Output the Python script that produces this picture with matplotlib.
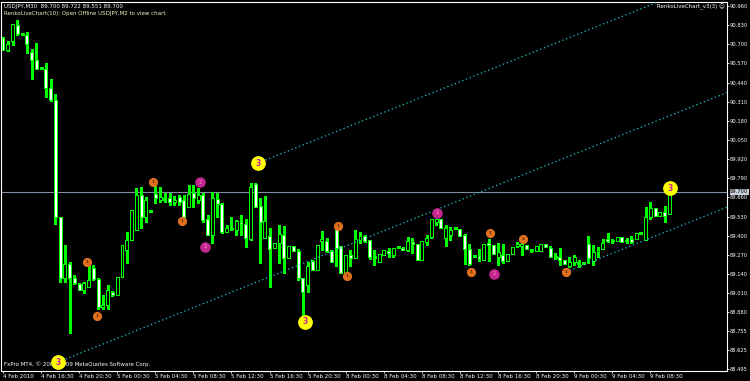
import matplotlib
matplotlib.use("Agg")
import matplotlib.pyplot as plt
from matplotlib.patches import Rectangle

# USDJPY M30, one entry per bar from 4 Feb 2010 12:30
OPEN = [
    90.743, 90.661, 90.723, 90.831, 90.770, 90.763, 90.648, 90.594, 90.539, 90.532,
    90.403, 90.322, 89.528, 89.113, 89.208, 89.113, 89.073, 89.032, 89.052, 89.181,
    89.107, 88.916, 88.930, 89.018, 88.998, 89.120, 89.303, 89.371, 89.439, 89.677,
    89.528, 89.568, 89.684, 89.643, 89.650, 89.657, 89.629, 89.663, 89.643, 89.595,
    89.691, 89.643, 89.677, 89.514, 89.405, 89.650, 89.616, 89.426, 89.446, 89.439,
    89.494, 89.480, 89.378, 89.752, 89.602, 89.385, 89.399, 89.317, 89.351, 89.405,
    89.249, 89.331, 89.297, 89.113, 89.066, 89.229, 89.168, 89.365, 89.365, 89.297,
    89.453, 89.331, 89.147, 89.270, 89.249, 89.371, 89.399, 89.371, 89.256, 89.222,
    89.270, 89.297, 89.270, 89.324, 89.317, 89.303, 89.358, 89.344, 89.236, 89.358,
    89.392, 89.494, 89.514, 89.385, 89.405, 89.446, 89.446, 89.405, 89.310, 89.263,
    89.263, 89.236, 89.351, 89.337, 89.256, 89.270, 89.229, 89.276, 89.331, 89.331,
    89.337, 89.297, 89.297, 89.297, 89.344, 89.317, 89.256, 89.256, 89.236, 89.195,
    89.222, 89.215, 89.215, 89.344, 89.229, 89.290, 89.310, 89.378, 89.365, 89.365,
    89.392, 89.365, 89.378, 89.378, 89.412, 89.371, 89.528, 89.589, 89.534, 89.562,
    89.551,
]
HIGH = [
    90.750, 90.723, 90.838, 90.865, 90.772, 90.784, 90.668, 90.709, 90.541, 90.573,
    90.465, 90.363, 89.530, 89.337, 89.222, 89.134, 89.079, 89.086, 89.202, 89.202,
    89.113, 88.998, 89.066, 89.025, 89.120, 89.337, 89.426, 89.575, 89.724, 89.731,
    89.663, 89.570, 89.738, 89.731, 89.691, 89.691, 89.670, 89.677, 89.677, 89.745,
    89.745, 89.724, 89.691, 89.541, 89.697, 89.691, 89.623, 89.473, 89.528, 89.507,
    89.541, 89.514, 89.758, 89.758, 89.657, 89.670, 89.453, 89.351, 89.473, 89.466,
    89.331, 89.333, 89.310, 89.115, 89.222, 89.236, 89.337, 89.433, 89.385, 89.303,
    89.455, 89.333, 89.270, 89.303, 89.439, 89.426, 89.405, 89.373, 89.303, 89.276,
    89.303, 89.317, 89.317, 89.326, 89.324, 89.392, 89.385, 89.346, 89.365, 89.405,
    89.514, 89.514, 89.516, 89.473, 89.460, 89.453, 89.448, 89.412, 89.344, 89.265,
    89.310, 89.344, 89.378, 89.339, 89.351, 89.344, 89.276, 89.324, 89.358, 89.358,
    89.339, 89.303, 89.331, 89.344, 89.346, 89.331, 89.283, 89.317, 89.238, 89.256,
    89.270, 89.236, 89.217, 89.399, 89.337, 89.324, 89.378, 89.419, 89.378, 89.392,
    89.394, 89.385, 89.399, 89.419, 89.419, 89.595, 89.629, 89.591, 89.562, 89.602,
    89.722,
]
LOW = [
    90.661, 90.655, 90.695, 90.763, 90.763, 90.641, 90.465, 90.532, 90.532, 90.342,
    90.315, 89.480, 89.086, 89.086, 88.740, 89.073, 89.032, 89.012, 89.052, 89.100,
    88.903, 88.903, 88.903, 88.991, 88.998, 89.120, 89.215, 89.371, 89.439, 89.453,
    89.494, 89.562, 89.623, 89.629, 89.629, 89.609, 89.609, 89.609, 89.521, 89.595,
    89.595, 89.623, 89.494, 89.405, 89.351, 89.528, 89.419, 89.426, 89.439, 89.405,
    89.405, 89.324, 89.371, 89.595, 89.215, 89.385, 89.052, 89.317, 89.215, 89.147,
    89.249, 89.297, 89.100, 88.862, 89.018, 89.168, 89.168, 89.303, 89.290, 89.222,
    89.195, 89.147, 89.147, 89.195, 89.249, 89.351, 89.358, 89.242, 89.202, 89.222,
    89.270, 89.256, 89.256, 89.317, 89.303, 89.297, 89.283, 89.236, 89.236, 89.337,
    89.385, 89.473, 89.453, 89.331, 89.371, 89.446, 89.399, 89.208, 89.202, 89.256,
    89.229, 89.236, 89.229, 89.276, 89.202, 89.215, 89.229, 89.276, 89.324, 89.270,
    89.310, 89.290, 89.297, 89.297, 89.324, 89.256, 89.242, 89.202, 89.208, 89.188,
    89.202, 89.188, 89.208, 89.215, 89.202, 89.256, 89.310, 89.358, 89.351, 89.365,
    89.358, 89.351, 89.351, 89.378, 89.412, 89.371, 89.514, 89.534, 89.534, 89.494,
    89.551,
]
CLOSE = [
    90.661, 90.702, 90.838, 90.770, 90.768, 90.702, 90.594, 90.532, 90.537, 90.403,
    90.322, 89.528, 89.113, 89.208, 89.113, 89.079, 89.032, 89.079, 89.100, 89.107,
    88.916, 88.930, 89.032, 88.998, 89.120, 89.337, 89.371, 89.575, 89.677, 89.528,
    89.643, 89.568, 89.657, 89.663, 89.652, 89.629, 89.643, 89.629, 89.528, 89.684,
    89.657, 89.677, 89.507, 89.405, 89.657, 89.616, 89.426, 89.453, 89.453, 89.500,
    89.480, 89.385, 89.731, 89.595, 89.494, 89.500, 89.310, 89.351, 89.412, 89.249,
    89.331, 89.297, 89.113, 89.018, 89.195, 89.168, 89.337, 89.378, 89.297, 89.222,
    89.317, 89.147, 89.270, 89.249, 89.378, 89.399, 89.365, 89.256, 89.254, 89.276,
    89.303, 89.283, 89.317, 89.322, 89.303, 89.365, 89.344, 89.236, 89.365, 89.385,
    89.514, 89.512, 89.453, 89.453, 89.439, 89.451, 89.399, 89.310, 89.208, 89.261,
    89.242, 89.344, 89.337, 89.276, 89.290, 89.229, 89.276, 89.324, 89.344, 89.344,
    89.310, 89.301, 89.331, 89.344, 89.324, 89.256, 89.254, 89.236, 89.208, 89.222,
    89.256, 89.213, 89.213, 89.249, 89.290, 89.303, 89.351, 89.365, 89.371, 89.392,
    89.358, 89.371, 89.358, 89.419, 89.417, 89.528, 89.589, 89.534, 89.562, 89.534,
    89.700,
]

TIME_LABELS = ["4 Feb 2010", "4 Feb 16:30", "4 Feb 20:30", "5 Feb 00:30", "5 Feb 04:30",
               "5 Feb 08:30", "5 Feb 12:30", "5 Feb 16:30", "5 Feb 20:30", "8 Feb 00:30",
               "8 Feb 04:30", "8 Feb 08:30", "8 Feb 12:30", "8 Feb 16:30", "8 Feb 20:30",
               "9 Feb 00:30", "9 Feb 04:30", "9 Feb 08:30"]
LABEL_EVERY = 8
PRICE_TICKS = [90.960, 90.830, 90.700, 90.570, 90.440, 90.310, 90.180, 90.050, 89.920,
               89.790, 89.660, 89.530, 89.400, 89.270, 89.140, 89.010, 88.880, 88.755,
               88.625, 88.495]
BID = 89.700

# wave-count markers (bar, price, level)
WAVE_BAR = [17.6, 19.7, 31.5, 37.6, 70.4, 72.3, 98.3, 102.3, 109.2, 118.3,
            41.4, 42.4, 91.2, 103.2,
            11.6, 53.6, 63.4, 140.1]
WAVE_PRICE = [89.222, 88.855, 89.765, 89.500, 89.466, 89.127, 89.154, 89.419, 89.378, 89.154,
              89.765, 89.324, 89.555, 89.141,
              88.543, 89.894, 88.815, 89.724]
WAVE_LEVEL = [1] * 10 + [2] * 4 + [3] * 4

# channel lines: (bar0, price0, bar1, price1)
CHANNELS = [(11.6, 88.543, 152.1, 90.372),
            (53.6, 89.894, 152.1, 91.176),
            (118.3, 89.154, 152.1, 89.594)]

GREEN = "#00ff00"
CYAN = "#20c8d8"
LEVEL_STYLE = {1: ("#e07020", "#6a2a00", 5.6, 3.2),
               2: ("#c02890", "#ff60b0", 6.6, 3.4),
               3: ("#ffff00", "#d0209a", 9.6, 5.6)}
FS = 4.0
FS_PRICE = 3.7

fig = plt.figure(figsize=(7.5, 3.81), dpi=100, facecolor="black")
ax = fig.add_axes([1 / 750, 10 / 381, 726 / 750, 369 / 381], facecolor="black")
ax.set_xlim(-0.42, 152.1)
ax.set_ylim(88.482, 90.987)

w = 0.62
for i, (o, h, l, c) in enumerate(zip(OPEN, HIGH, LOW, CLOSE)):
    ax.vlines(i, min(l, o, c), max(h, o, c), color=GREEN, lw=0.75, antialiased=False, zorder=2)
    if abs(c - o) < 0.005:
        ax.hlines(c, i - w / 2, i + w / 2, color=GREEN, lw=0.75, antialiased=False, zorder=3)
    else:
        face = "black" if c > o else "white"
        ax.add_patch(Rectangle((i - w / 2, min(o, c)), w, abs(c - o), facecolor=face,
                               edgecolor=GREEN, lw=0.6, antialiased=False, zorder=3))

ax.axhline(BID, color="#7f8fa0", lw=0.8, zorder=1)

for b0, p0, b1, p1 in CHANNELS:
    ax.plot([b0, b1], [p0, p1], color=CYAN, lw=0.9, ls=(0, (1, 2.2)), zorder=4)

for b, p, lev in zip(WAVE_BAR, WAVE_PRICE, WAVE_LEVEL):
    fc, tc, ms, fs = LEVEL_STYLE[lev]
    ax.plot(b, p, "o", ms=ms, mfc=fc, mec=fc, zorder=5, clip_on=False)
    ax.text(b, p, str(lev), color=tc, fontsize=fs, ha="center", va="center",
            fontweight="bold", zorder=6)

for s in ax.spines.values():
    s.set_color("white")
    s.set_linewidth(0.8)
ax.yaxis.tick_right()
ax.set_yticks(PRICE_TICKS)
ax.set_yticklabels([f"{v:.3f}" for v in PRICE_TICKS])
ax.set_xticks(range(0, LABEL_EVERY * len(TIME_LABELS), LABEL_EVERY))
ax.set_xticklabels(TIME_LABELS, ha="left")
ax.tick_params(colors="white", length=1.5, width=0.6)
ax.tick_params(axis="x", labelsize=FS, pad=0.5)
ax.tick_params(axis="y", labelsize=FS_PRICE, pad=0.6)

ax.annotate(f"{BID:.3f}", xy=(1, BID), xycoords=("axes fraction", "data"),
            xytext=(2.2, 0), textcoords="offset points", fontsize=FS_PRICE, color="black",
            va="center", ha="left",
            bbox=dict(boxstyle="square,pad=0.1", fc="#c8d0d8", ec="none"), annotation_clip=False)

ax.text(0.004, 0.995, "USDJPY,M30  89.700 89.722 89.551 89.700", transform=ax.transAxes,
        color="white", fontsize=FS, va="top", ha="left")
ax.text(0.004, 0.975, "RenkoLiveChart(10): Open Offline USDJPY,M2 to view chart",
        transform=ax.transAxes, color="#f0f0c0", fontsize=FS, va="top", ha="left")
ax.text(0.997, 0.995, "RenkoLiveChart_v3(3) \u263a", transform=ax.transAxes,
        color="white", fontsize=FS, va="top", ha="right")
ax.text(0.004, 0.012, "FxPro MT4, \u00a9 2001-2009 MetaQuotes Software Corp.",
        transform=ax.transAxes, color="white", fontsize=FS, va="bottom", ha="left")

fig.savefig("out.png", dpi=100, facecolor="black")
